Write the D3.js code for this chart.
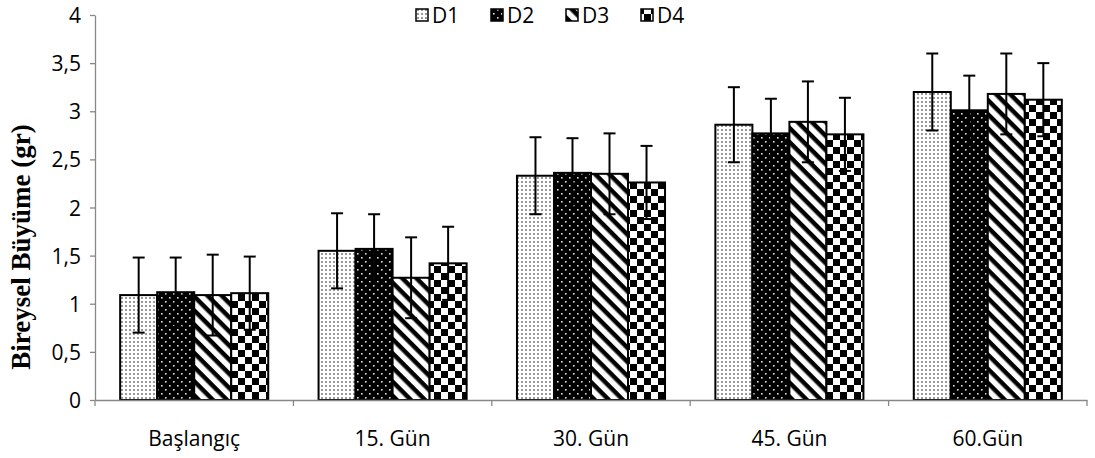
<!DOCTYPE html>
<html><head><meta charset="utf-8">
<script src="https://cdn.jsdelivr.net/npm/d3@7"></script>
<style>body{margin:0;background:#fff}</style>
</head><body>
<svg id="c" width="1095" height="458"></svg>
<script>
const categories = ["Başlangıç","15. Gün","30. Gün","45. Gün","60.Gün"];
const seriesNames = ["D1","D2","D3","D4"];
const D1 = [1.09,1.55,2.33,2.86,3.20];
const D2 = [1.12,1.57,2.36,2.77,3.01];
const D3 = [1.09,1.27,2.35,2.89,3.18];
const D4 = [1.11,1.42,2.26,2.76,3.12];
const E1 = [0.39,0.39,0.40,0.39,0.40];
const E2 = [0.36,0.36,0.36,0.36,0.36];
const E3 = [0.42,0.42,0.42,0.42,0.42];
const E4 = [0.38,0.38,0.38,0.38,0.38];
const yTicks = [0,0.5,1,1.5,2,2.5,3,3.5,4];

const values = [D1,D2,D3,D4], errs = [E1,E2,E3,E4];
const FONT = "'Open Sans', 'Liberation Sans', sans-serif";
const svg = d3.select("#c");
const defs = svg.append("defs");
// D1: fine grey dots
let p = defs.append("pattern").attr("id","p0").attr("patternUnits","userSpaceOnUse").attr("width",4).attr("height",4);
p.append("rect").attr("width",4).attr("height",4).attr("fill","#fff");
p.append("rect").attr("x",1).attr("y",1).attr("width",2).attr("height",2).attr("fill","#999");
// D2: black with white dots
p = defs.append("pattern").attr("id","p1").attr("patternUnits","userSpaceOnUse").attr("width",8).attr("height",8);
p.append("rect").attr("width",8).attr("height",8).attr("fill","#000");
p.append("rect").attr("x",1).attr("y",1).attr("width",1.6).attr("height",1.6).attr("fill","#ddd");
p.append("rect").attr("x",5).attr("y",5).attr("width",1.6).attr("height",1.6).attr("fill","#ddd");
// D3: diagonal stripes (top-left to bottom-right)
p = defs.append("pattern").attr("id","p2").attr("patternUnits","userSpaceOnUse").attr("width",10).attr("height",10).attr("patternTransform","rotate(45)");
p.append("rect").attr("width",10).attr("height",10).attr("fill","#fff");
p.append("rect").attr("width",10).attr("height",4.5).attr("fill","#000");
// D4: checkerboard
p = defs.append("pattern").attr("id","p3").attr("patternUnits","userSpaceOnUse").attr("width",14).attr("height",14);
p.append("rect").attr("width",14).attr("height",14).attr("fill","#fff");
p.append("rect").attr("x",0).attr("y",0).attr("width",7).attr("height",7).attr("fill","#000");
p.append("rect").attr("x",7).attr("y",7).attr("width",7).attr("height",7).attr("fill","#000");

const mLeft = 95, mRight = 1087, mTop = 15, mBottom = 400;
const x0 = d3.scaleBand().domain(categories).range([mLeft,mRight]).paddingInner(0).paddingOuter(0);
const x1 = d3.scaleBand().domain(seriesNames).range([0,x0.bandwidth()]).paddingInner(0).paddingOuter(0.68);
const y = d3.scaleLinear().domain([0,4]).range([mBottom,mTop]);

// y axis
const yAxis = svg.append("g").attr("transform",`translate(${mLeft},0)`)
  .call(d3.axisLeft(y).tickValues(yTicks).tickSize(5).tickSizeOuter(0).tickFormat(d=>String(d).replace(".",",")));
yAxis.select(".domain").attr("stroke","#888").attr("stroke-width",1.3);
yAxis.selectAll(".tick line").attr("stroke","#888").attr("stroke-width",1.3);
yAxis.selectAll("text").style("font-family",FONT).style("font-size","21px").attr("fill","#000").attr("x",-14).attr("dy","0.36em");

const groups = svg.append("g");
categories.forEach((c,i)=>{
  seriesNames.forEach((s,j)=>{
    const v = values[j][i];
    groups.append("rect").attr("x",x0(c)+x1(s)).attr("y",y(v))
      .attr("width",x1.bandwidth()).attr("height",y(0)-y(v))
      .attr("fill",`url(#p${j})`).attr("stroke","#000").attr("stroke-width",2);
  });
});
// error bars
categories.forEach((c,i)=>{
  seriesNames.forEach((s,j)=>{
    const v = values[j][i], e = errs[j][i];
    const cx = x0(c)+x1(s)+x1.bandwidth()/2;
    const g = svg.append("g").attr("stroke","#000").attr("stroke-width",2);
    g.append("line").attr("x1",cx).attr("x2",cx).attr("y1",y(v+e)).attr("y2",y(v-e));
    g.append("line").attr("x1",cx-6).attr("x2",cx+6).attr("y1",y(v+e)).attr("y2",y(v+e));
    g.append("line").attr("x1",cx-6).attr("x2",cx+6).attr("y1",y(v-e)).attr("y2",y(v-e));
  });
});

// x axis
const xAxis = svg.append("g").attr("transform",`translate(0,${mBottom})`)
  .call(d3.axisBottom(x0).tickSize(0).tickSizeOuter(0));
xAxis.select(".domain").attr("stroke","#888").attr("stroke-width",1.3);
xAxis.selectAll("text").style("font-family",FONT).style("font-size","21px").attr("fill","#000").attr("y",46).attr("dy",0);
const bounds = categories.map(c=>x0(c)).concat([mRight]);
svg.append("g").selectAll("line").data(bounds).join("line")
  .attr("x1",d=>d).attr("x2",d=>d).attr("y1",mBottom).attr("y2",mBottom+6)
  .attr("stroke","#888").attr("stroke-width",1.3);

// y title
svg.append("text").attr("transform",`translate(30,247) rotate(-90)`)
  .attr("text-anchor","middle").style("font-family","'Liberation Serif', serif").style("font-weight","bold")
  .style("font-size","27px").text("Bireysel Büyüme (gr)");

// legend
const legX = [416, 491, 566, 641];
const leg = svg.append("g");
seriesNames.forEach((s,j)=>{
  leg.append("rect").attr("x",legX[j]).attr("y",9).attr("width",12).attr("height",12)
    .attr("fill",`url(#p${j})`).attr("stroke","#000").attr("stroke-width",1.5);
  leg.append("text").attr("x",legX[j]+16).attr("y",23).style("font-family",FONT)
    .style("font-size","21px").text(s);
});
</script>
</body></html>
